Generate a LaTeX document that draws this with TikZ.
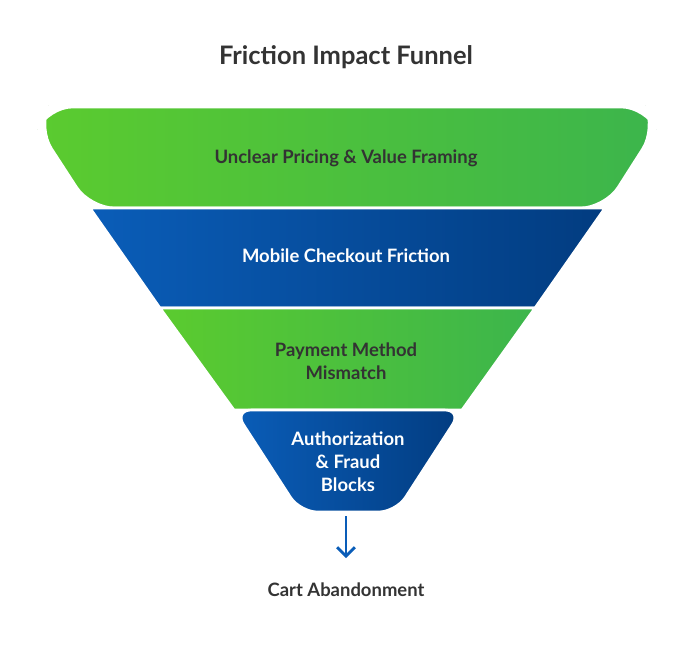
\documentclass[tikz,border=0pt]{standalone}
\usepackage{fontspec}
\setmainfont{Lato}
\usetikzlibrary{positioning,arrows.meta}
\definecolor{greenL}{HTML}{5BCB2F}
\definecolor{greenR}{HTML}{3CB54C}
\definecolor{blueL}{HTML}{0A5DB8}
\definecolor{blueR}{HTML}{023C80}
\definecolor{textdark}{HTML}{333333}

\begin{document}
\begin{tikzpicture}[
    x=0.02cm, y=-0.02cm,
    greenband/.style={left color=greenL, right color=greenR, draw=white, line width=1.5pt},
    blueband/.style={left color=blueL, right color=blueR, draw=white, line width=1.5pt},
    label_dark/.style={font=\bfseries\fontsize{10.5}{13}\selectfont, text=textdark, align=center},
    label_light/.style={font=\bfseries\fontsize{10.5}{13}\selectfont, text=white, align=center}
]
\useasboundingbox (0,0) rectangle (694,650);

% Title
\node[font=\bfseries\fontsize{14.5}{17}\selectfont, text=textdark] (title) at (346,57) {Friction Impact Funnel};

% Bands
\fill[greenband, rounded corners=14pt] (90,208) -- (38,128) -- (48,107) -- (646,107) -- (656,128) -- (605,208) -- cycle;
\draw[white, line width=1.5pt] (90,208) -- (605,208);
\fill[blueband] (90,208) -- (605,208) -- (535,308) -- (160,308) -- cycle;
\fill[greenband] (160,308) -- (535,308) -- (462,410) -- (234,410) -- cycle;
\fill[blueband, rounded corners=10pt] (234,410) -- (462,410) -- (396,512) -- (300,512) -- cycle;
\draw[white, line width=1.5pt] (234,410) -- (462,410);

% Labels
\node[label_dark] (L1) at (346,158) {Unclear Pricing \& Value Framing};
\node[label_light] (L2) at (346,256) {Mobile Checkout Friction};
\node[label_dark] (L3) at (346,361) {Payment Method\\Mismatch};
\node[label_light] (L4) at (348,462) {Authorization\\\& Fraud\\Blocks};

% Outcome
\coordinate (tip) at (346,516);
\node[font=\bfseries\fontsize{10.5}{13}\selectfont, text=textdark] (out) at (346,590) {Cart Abandonment};
\draw[blueL, line width=1.6pt, -{Straight Barb[length=5pt,width=10pt]}] (tip) -- (346,558);

\end{tikzpicture}
\end{document}
